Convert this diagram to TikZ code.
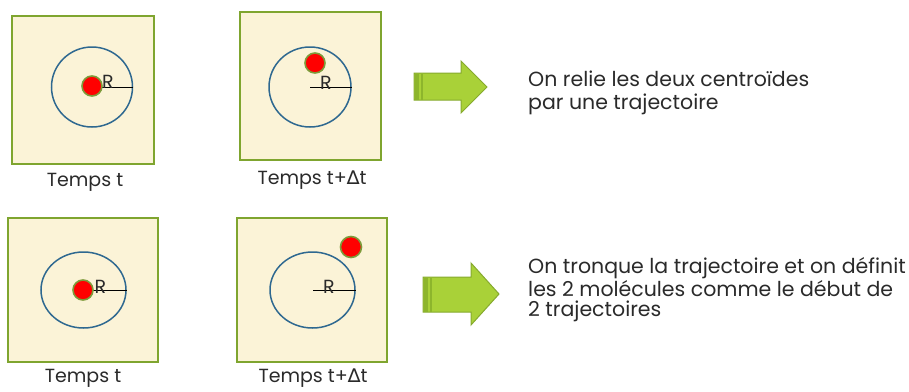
\documentclass[tikz,border=0pt]{standalone}
\usepackage{fontspec}
\setmainfont{Poppins}
\newfontfamily\deltafont{DejaVu Sans}
\usetikzlibrary{shapes.geometric}
\definecolor{boxfill}{HTML}{FBF3D7}
\definecolor{boxline}{HTML}{7FA52F}
\definecolor{ringblue}{HTML}{2E6890}
\definecolor{dotedge}{HTML}{7D9B3A}
\definecolor{arrowfill}{HTML}{A9D138}
\definecolor{arrowline}{HTML}{86AA2E}
\definecolor{arrowstripe}{HTML}{8DB52C}
\definecolor{txt}{HTML}{2A2A2A}
\tikzset{
  framebox/.style={draw=boxline, line width=1.8pt, fill=boxfill, minimum width=#1, minimum height=#1, inner sep=0pt},
  ring/.style={draw=ringblue, line width=1.5pt, ellipse, inner sep=0pt},
  dot/.style={circle, fill=red, draw=dotedge, line width=1.6pt, minimum size=20pt, inner sep=0pt},
  radius line/.style={draw=black, line width=0.8pt},
  rlabel/.style={font=\fontsize{19}{19}\selectfont, text=txt, inner sep=0pt},
  caption/.style={font=\fontsize{19}{19}\selectfont, text=txt, inner sep=0pt},
  note/.style={font=\fontsize{20.5}{#1}\selectfont, text=txt, align=left, anchor=west, inner sep=0pt},
  bigarrow/.style={fill=arrowfill, draw=arrowline, line width=1pt, line join=miter}
}
\begin{document}
\begin{tikzpicture}[x=1pt,y=-1pt]
\useasboundingbox (0,0) rectangle (909,391);
% ---------- top row ----------
\node[framebox=142pt, minimum height=148pt] (b1) at (83,90) {};
\node[ring, minimum width=81pt, minimum height=80pt] (c1) at (92,87) {};
\coordinate (c1c) at (92,87);
\draw[radius line] (c1c) -- (c1.east);
\node[dot] (d1) at (92,86) {};
\node[rlabel] (r1) at (108,82) {R};
\node[caption] (t1) at (85,182) {Temps t};

\node[framebox=141pt, minimum height=148pt] (b2) at (310.5,86) {};
\node[ring, minimum width=82pt, minimum height=80pt] (c2) at (310,87) {};
\coordinate (c2c) at (310,87);
\draw[radius line] (c2c) -- (c2.east);
\node[dot] (d2) at (315,63) {};
\node[rlabel] (r2) at (326,83) {R};
\node[caption] (t2) at (312,180) {Temps t+{\deltafont ∆}t};

% arrow 1
\draw[bigarrow] (414,73) -- (461,73) -- (461,61) -- (487,87) -- (461,113) -- (461,100) -- (414,100) -- cycle;
\fill[arrowstripe] (414.5,73.5) rectangle (418.5,99.5);
\fill[arrowstripe] (420.5,73.5) rectangle (422.5,99.5);
\node[note=23] (n1) at (528,93) {On relie les deux centroïdes\\par une trajectoire};

% ---------- bottom row ----------
\node[framebox=150pt, minimum height=144pt] (b3) at (83,290) {};
\node[ring, minimum width=85pt, minimum height=76pt] (c3) at (83.5,290) {};
\coordinate (c3c) at (83.5,290);
\draw[radius line] (c3c) -- (c3.east);
\node[dot] (d3) at (83,290) {};
\node[rlabel] (r3) at (100.5,287) {R};
\node[caption] (t3) at (83,378) {Temps t};

\node[framebox=150pt, minimum height=144pt] (b4) at (312,290) {};
\node[ring, minimum width=85pt, minimum height=76pt] (c4) at (312.5,290) {};
\coordinate (c4c) at (313,290);
\draw[radius line] (c4c) -- (c4.east);
\node[dot, minimum size=21pt] (d4) at (351,247) {};
\node[rlabel] (r4) at (329,287) {R};
\node[caption] (t4) at (313,378.5) {Temps t+{\deltafont ∆}t};

% arrow 2
\draw[bigarrow] (423,277) -- (471,277) -- (471,263) -- (499,294) -- (471,325) -- (471,312) -- (423,312) -- cycle;
\fill[arrowstripe] (423.5,277.5) rectangle (427.5,311.5);
\fill[arrowstripe] (429.5,277.5) rectangle (431.5,311.5);
\node[note=20.5] (n2) at (528,290) {On tronque la trajectoire et on définit\\les 2 molécules comme le début de\\2 trajectoires};
\end{tikzpicture}
\end{document}
